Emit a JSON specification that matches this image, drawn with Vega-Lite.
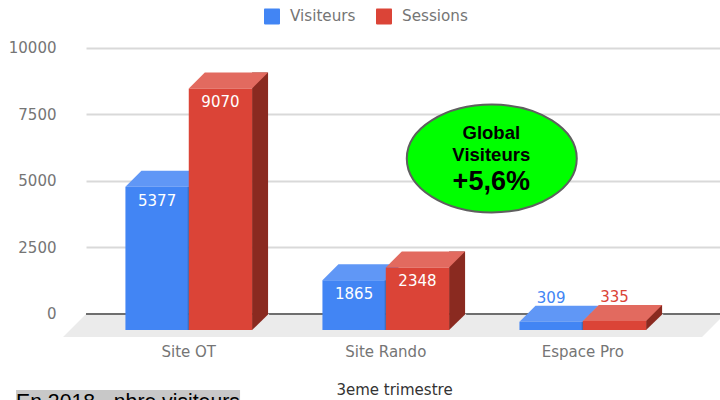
{
"$schema":"https://vega.github.io/schema/vega-lite/v6.json",
"width":634,"height":337,
"autosize":{"type":"none"},
"padding":{"left":86,"top":0,"right":0,"bottom":63},
"background":"white",
"config":{"view":{"stroke":null},"font":"DejaVu Sans"},
"datasets":{"visits":[
{"category":"Site OT","series":"Visiteurs","value":5377},
{"category":"Site OT","series":"Sessions","value":9070},
{"category":"Site Rando","series":"Visiteurs","value":1865},
{"category":"Site Rando","series":"Sessions","value":2348},
{"category":"Espace Pro","series":"Visiteurs","value":309},
{"category":"Espace Pro","series":"Sessions","value":335}
]},
"layer":[
{"data":{"values":[{"part":"floor"}]},
 "mark":{"type":"point","filled":true,"opacity":1,"size":4,"color":"#ebebeb","shape":"M-299.7,0L-322.7,23L316.3,23L339.3,0Z"},
 "encoding":{
 "x":{"datum":"Site Rando","type":"nominal",
 "scale":{"domain":["Site OT","Site Rando","Espace Pro"],"paddingInner":0.357,"paddingOuter":0.2875,"align":0.348},
 "axis":{"title":"3eme trimestre","titleFontSize":15,"titleFontWeight":"normal","titleColor":"#333333","titleX":308,"titleAlign":"center","titlePadding":23,"labelFontSize":15,"labelColor":"#757575","labelAngle":0,"labelPadding":7,"domain":false,"ticks":false,"grid":false}},
 "y":{"datum":0,"type":"quantitative",
 "scale":{"domain":[-863.4,11786.8],"nice":false,"zero":false},
 "axis":{"title":null,"values":[0,2500,5000,7500,10000],"format":"d","grid":true,"gridColor":"#d9d9d9","gridWidth":2,"domain":false,"ticks":false,"labelFontSize":15,"labelColor":"#757575","labelPadding":30}}}},
{"data":{"values":[{"part":"zero line"}]},
 "mark":{"type":"rule","color":"#444444","strokeWidth":1.5},
 "encoding":{"y":{"datum":0,"type":"quantitative"}}},
{"data":{"name":"visits"},"transform":[{"filter":"datum.series==='Sessions'"}],
 "mark":{"type":"bar","width":16,"xOffset":71.3,"y2Offset":16,"color":"#8a2a20"},
 "encoding":{"x":{"field":"category","type":"nominal"},"y":{"field":"value","type":"quantitative"},"y2":{"datum":0}}},
{"data":{"name":"visits"},"transform":[{"filter":"datum.series==='Sessions'"}],
 "mark":{"type":"point","filled":true,"opacity":1,"size":4,"color":"#ebebeb","shape":"M48.65,-0.5L48.65,17L31.65,17L31.65,16Z"},
 "encoding":{"x":{"field":"category","type":"nominal"},"xOffset":{"field":"series","type":"nominal","scale":{"domain":["Visiteurs","Sessions"],"paddingInner":0,"paddingOuter":0}},"y":{"datum":0,"type":"quantitative"}}},
{"data":{"name":"visits"},"transform":[{"filter":"datum.series==='Visiteurs'"}],
 "mark":{"type":"point","filled":true,"opacity":1,"size":4,"color":"#6097f6","shape":"M-31.65,16L31.65,16L47.65,0L-15.65,0Z"},
 "encoding":{"x":{"field":"category","type":"nominal"},"xOffset":{"field":"series","type":"nominal"},"y":{"field":"value","type":"quantitative"}}},
{"data":{"name":"visits"},"transform":[{"filter":"datum.series==='Sessions'"}],
 "mark":{"type":"point","filled":true,"opacity":1,"size":4,"color":"#e26a5f","shape":"M-31.65,16L31.65,16L47.65,0L-15.65,0Z"},
 "encoding":{"x":{"field":"category","type":"nominal"},"xOffset":{"field":"series","type":"nominal"},"y":{"field":"value","type":"quantitative"}}},
{"data":{"name":"visits"},
 "mark":{"type":"bar","yOffset":16,"y2Offset":16},
 "encoding":{"x":{"field":"category","type":"nominal"},"xOffset":{"field":"series","type":"nominal"},"y":{"field":"value","type":"quantitative"},"y2":{"datum":0},
  "color":{"field":"series","type":"nominal","scale":{"domain":["Visiteurs","Sessions"],"range":["#4285f4","#db4437"]},
   "legend":{"title":null,"orient":"none","legendX":178,"legendY":8,"direction":"horizontal","symbolType":"M-1,-0.9Q-1,-1,-0.9,-1L0.9,-1Q1,-1,1,-0.9L1,0.9Q1,1,0.9,1L-0.9,1Q-1,1,-1,0.9Z","symbolSize":256,"labelFontSize":15.2,"labelColor":"#757575","columnPadding":20,"labelOffset":10,"symbolStrokeWidth":0}}}},
{"data":{"name":"visits"},"transform":[{"filter":"datum.series==='Visiteurs'"}],
 "mark":{"type":"bar","width":1,"xOffset":-0.5,"yOffset":16,"y2Offset":16,"color":"#3c62a6"},
 "encoding":{"x":{"field":"category","type":"nominal"},"y":{"field":"value","type":"quantitative"},"y2":{"datum":0}}},
{"data":{"name":"visits"},"transform":[{"filter":"datum.value>1000"}],
 "mark":{"type":"text","yOffset":30,"color":"#ffffff","fontSize":15,"baseline":"middle"},
 "encoding":{"x":{"field":"category","type":"nominal"},"xOffset":{"field":"series","type":"nominal"},"y":{"field":"value","type":"quantitative"},"text":{"field":"value","type":"quantitative","format":"d"}}},
{"data":{"name":"visits"},"transform":[{"filter":"datum.value<1000"}],
 "mark":{"type":"text","yOffset":-8,"fontSize":15,"baseline":"middle"},
 "encoding":{"x":{"field":"category","type":"nominal"},"xOffset":{"field":"series","type":"nominal"},"y":{"field":"value","type":"quantitative"},"text":{"field":"value","type":"quantitative","format":"d"},
 "color":{"field":"series","type":"nominal"}}},
{"data":{"values":[{"part":"badge"}]},
 "mark":{"type":"point","filled":true,"opacity":1,"size":4,"fill":"#00ff00","stroke":"#5f5f5f","strokeWidth":2,"xOffset":106,"shape":"M-85,0A85,54,0,1,1,85,0A85,54,0,1,1,-85,0Z"},
 "encoding":{"x":{"datum":"Site Rando","type":"nominal"},"y":{"datum":5837,"type":"quantitative"}}},
{"data":{"values":[{"line":"Global"}]},
 "mark":{"type":"text","font":"Liberation Sans","fontWeight":"bold","fontSize":18.5,"color":"#000000","xOffset":105.5,"baseline":"middle"},
 "encoding":{"x":{"datum":"Site Rando","type":"nominal"},"y":{"datum":6800,"type":"quantitative"},"text":{"field":"line"}}},
{"data":{"values":[{"line":"Visiteurs"}]},
 "mark":{"type":"text","font":"Liberation Sans","fontWeight":"bold","fontSize":18.5,"color":"#000000","xOffset":105.5,"baseline":"middle"},
 "encoding":{"x":{"datum":"Site Rando","type":"nominal"},"y":{"datum":5960,"type":"quantitative"},"text":{"field":"line"}}},
{"data":{"values":[{"line":"+5,6%"}]},
 "mark":{"type":"text","font":"Liberation Sans","fontWeight":"bold","fontSize":27,"color":"#000000","xOffset":105.5,"baseline":"middle"},
 "encoding":{"x":{"datum":"Site Rando","type":"nominal"},"y":{"datum":4950,"type":"quantitative"},"text":{"field":"line"}}},
{"data":{"values":[{"part":"caption box"}]},
 "mark":{"type":"point","filled":true,"opacity":1,"size":4,"color":"#c8c8c8","shape":"M-172.7,0L51.3,0L51.3,12L-172.7,12Z"},
 "encoding":{"x":{"datum":"Site OT","type":"nominal"},"y":{"datum":-2853,"type":"quantitative"}}},
{"data":{"values":[{"line":"En 2018 - nbre visiteurs"}]},
 "mark":{"type":"text","font":"Liberation Sans","fontSize":21.2,"color":"#000000","align":"left","xOffset":-172.7,"baseline":"top","yOffset":2},
 "encoding":{"x":{"datum":"Site OT","type":"nominal"},"y":{"datum":-2853,"type":"quantitative"},"text":{"field":"line"}}}
]
}
